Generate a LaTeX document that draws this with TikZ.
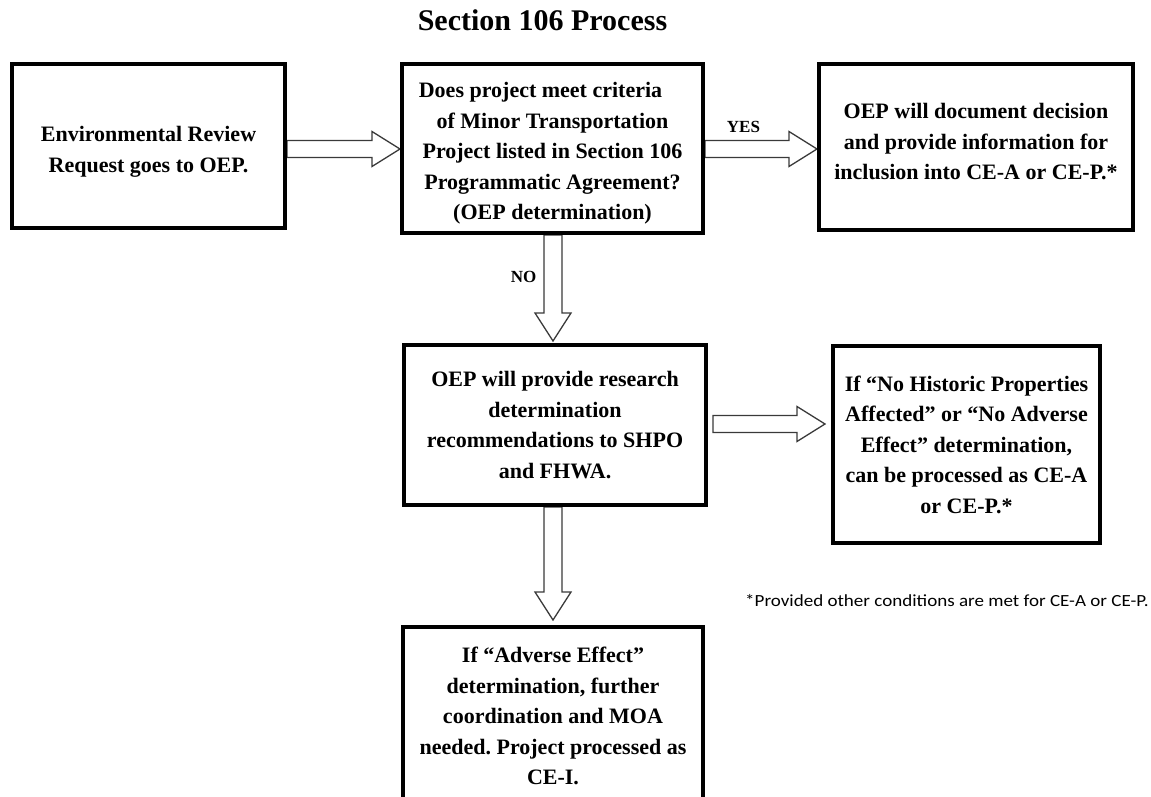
\documentclass[tikz,border=0pt]{standalone}
\usepackage{fontspec}
\setmainfont{Liberation Serif}
\newfontfamily\notefont{Carlito}
\usetikzlibrary{calc,backgrounds}
\definecolor{arrowgray}{HTML}{3A3A3A}
\tikzset{
  box/.style={draw=black, line width=4pt, fill=white, align=center, inner sep=0pt,
    font=\bfseries\fontsize{22}{30.5}\selectfont\frenchspacing},
  barrow/.style={draw=arrowgray, line width=1.3pt, fill=white, line join=miter},
  lbl/.style={font=\bfseries\fontsize{17}{20}\selectfont, inner sep=0pt, anchor=base},
}
\newcommand\shifttext[2]{\raisebox{#1}[\height][\depth]{\begin{tabular}{@{}c@{}}#2\end{tabular}}}
\newcommand\rightblock[2]{\draw[barrow] let \p1=#1, \p2=#2 in
  (\x1,\y1+8.5pt) -- (\x2-28pt,\y1+8.5pt) -- (\x2-28pt,\y1+17.5pt) -- (\x2,\y1)
  -- (\x2-28pt,\y1-17.5pt) -- (\x2-28pt,\y1-8.5pt) -- (\x1,\y1-8.5pt) -- cycle;}
\newcommand\downblock[2]{\draw[barrow] let \p1=#1, \p2=#2 in
  (\x1-9pt,\y1) -- (\x1-9pt,\y2+28pt) -- (\x1-18pt,\y2+28pt) -- (\x1,\y2)
  -- (\x1+18pt,\y2+28pt) -- (\x1+9pt,\y2+28pt) -- (\x1+9pt,\y1) -- cycle;}
\begin{document}
\begin{tikzpicture}[x=1pt,y=-1pt]
\useasboundingbox (0,0) rectangle (1151,797);
\clip (0,0) rectangle (1151,797);

\node[anchor=base, inner sep=0pt, font=\bfseries\fontsize{30}{36}\selectfont] (title) at (542.5,31) {Section 106 Process};

\node[box, minimum width=273pt, minimum height=164pt] (b1) at (148.5,146)
  {\shifttext{-5pt}{Environmental Review\\Request goes to OEP.}};
\node[box, minimum width=301pt, minimum height=169pt] (b2) at (552.5,148.5)
  {\shifttext{-4pt}{Does project meet criteria\hspace*{24pt}\\of Minor Transportation\\Project listed in Section 106\\Programmatic Agreement?\\(OEP determination)}};
\node[box, minimum width=314pt, minimum height=166pt] (b3) at (976,147)
  {\shifttext{4pt}{OEP will document decision\\and provide information for\\inclusion into CE-A or CE-P.*}};
\node[box, minimum width=302pt, minimum height=160pt] (b4) at (555,425)
  {OEP will provide research\\determination\\recommendations to SHPO\\and FHWA.};
\node[box, minimum width=267pt, minimum height=197pt] (b5) at (966.5,444.5)
  {If “No Historic Properties\\Affected” or “No Adverse\\Effect” determination,\\can be processed as CE-A\\or CE-P.*};
\node[box, minimum width=300pt, minimum height=178pt] (b6) at (553,716)
  {If “Adverse Effect”\\determination, further\\coordination and MOA\\needed. Project processed as\\CE-I.};

\begin{pgfonlayer}{background}
\rightblock{(b1.east |- 0,149)}{(b2.west |- 0,149)}
\rightblock{(b2.east |- 0,149)}{(b3.west |- 0,149)}
\rightblock{($(b4.east |- 0,424)+(5,0)$)}{($(b5.west |- 0,424)+(-6,0)$)}
\downblock{(553,0 |- b2.south)}{($(553,0 |- b4.north)+(0,-2)$)}
\downblock{(553,0 |- b4.south)}{($(553,0 |- b6.north)+(0,-5)$)}
\end{pgfonlayer}

\node[lbl] (yes) at (743.5,132) {YES};
\node[lbl] (no) at (523.5,282) {NO};

\node[anchor=base west, inner sep=0pt, font=\notefont\fontsize{17}{20}\selectfont] (note) at (745,606)
  {\scalebox{1.12}[1]{*Provided other conditions are met for CE-A or CE-P.}};
\end{tikzpicture}
\end{document}
